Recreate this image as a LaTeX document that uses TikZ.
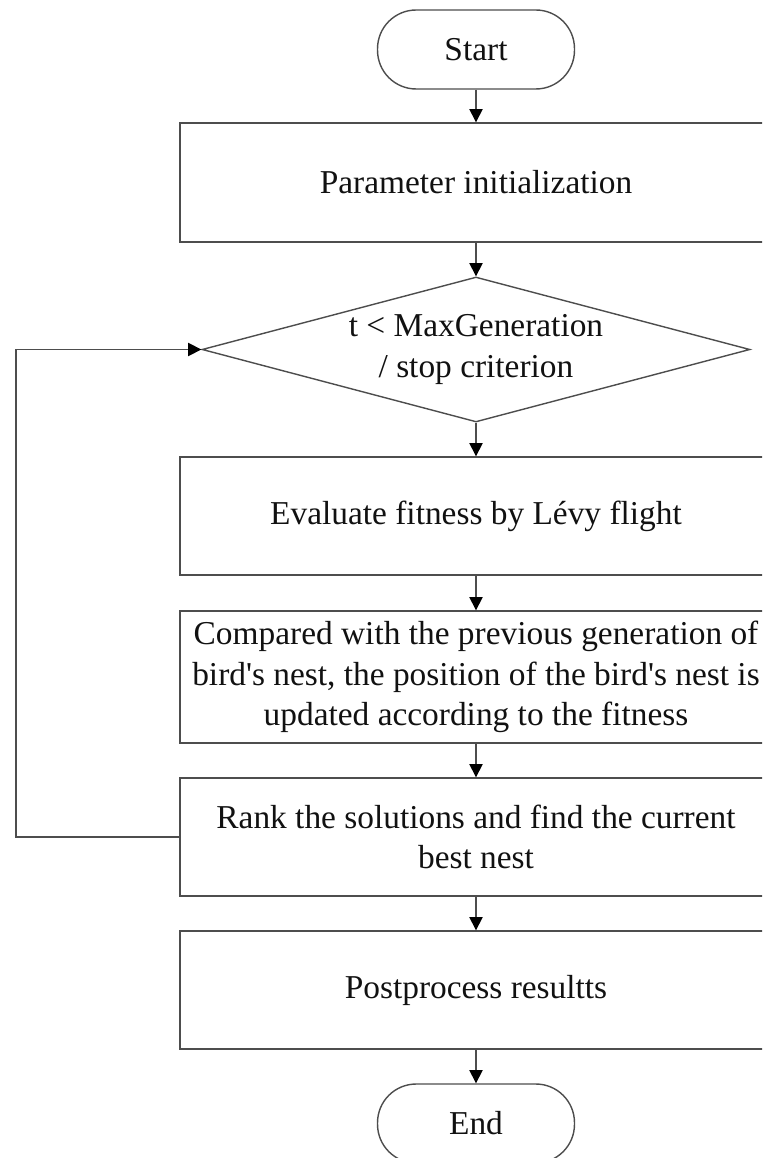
\documentclass[tikz,border=0pt]{standalone}
\usepackage{fontspec}
\setmainfont{Liberation Serif}[Ligatures=TeXOff]
\usepackage{tikz}
\usetikzlibrary{shapes.geometric,arrows.meta}
\definecolor{stroke}{HTML}{4D4D4D}
\definecolor{ink}{HTML}{111111}
\newcommand{\flowFont}{\fontsize{19}{23}\selectfont}
\tikzset{
  flowTerm/.style={draw=stroke, line width=0.8pt, rectangle, rounded corners=22pt,
    minimum width=3.94cm, minimum height=1.58cm, text=ink, font=\flowFont},
  flowBox/.style={draw=stroke, line width=0.8pt, rectangle, minimum width=11.84cm,
    inner sep=0pt, align=center, text=ink, font=\flowFont},
  flowDecision/.style={draw=stroke, line width=0.8pt, diamond, aspect=3.78,
    minimum width=10.96cm, minimum height=2.9cm, inner sep=0pt, align=center,
    text=ink, font=\flowFont},
  flowArrow/.style={draw=stroke, line width=0.8pt,
    -{Triangle[length=7.5pt,width=7.5pt,color=black]}}
}

\begin{document}
\begin{tikzpicture}[x=0.02cm, y=-0.02cm]
  \useasboundingbox (0,0) rectangle (762,1158);
  \clip (0,0) rectangle (762,1158);

  \node[flowTerm] (start) at (476,49.5) {Start};
  \node[flowBox, minimum height=2.38cm] (init) at (476,182.5) {Parameter initialization};
  \node[flowDecision] (check) at (476,349.5) {t < MaxGeneration\\/ stop criterion};
  \node[flowBox, minimum height=2.36cm] (eval) at (476,516) {Evaluate fitness by Lévy flight};
  \node[flowBox, minimum height=2.64cm] (update) at (476,677)
    {Compared with the previous generation of\\bird's nest, the position of the bird's nest is\\updated according to the fitness};
  \node[flowBox, minimum height=2.36cm] (rank) at (476,837)
    {Rank the solutions and find the current\\best nest};
  \node[flowBox, minimum height=2.36cm] (post) at (476,990) {Postprocess resultts};
  \node[flowTerm] (end) at (476,1123.5) {End};
  \coordinate (loop) at (16,0);

  \draw[flowArrow] (start) -- (init);
  \draw[flowArrow] (init) -- (check);
  \draw[flowArrow] (check) -- (eval);
  \draw[flowArrow] (eval) -- (update);
  \draw[flowArrow] (update) -- (rank);
  \draw[flowArrow] (rank) -- (post);
  \draw[flowArrow] (post) -- (end);
  \draw[flowArrow] (rank.west) -- (rank.west -| loop) |- (check.west);
\end{tikzpicture}
\end{document}
